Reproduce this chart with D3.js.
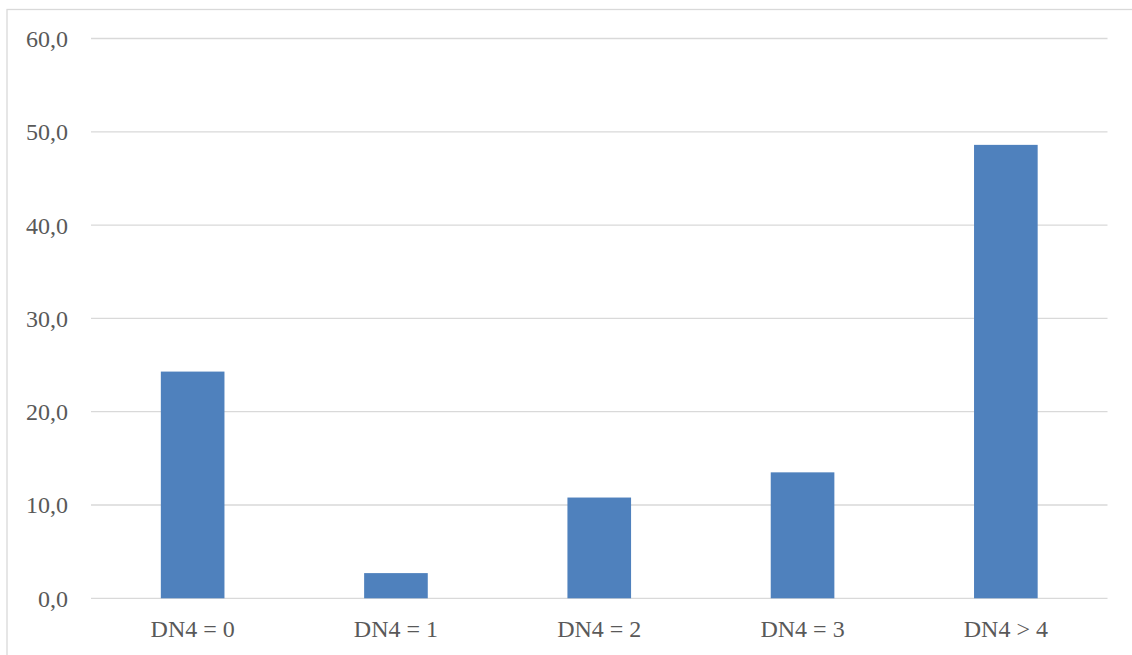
<!DOCTYPE html>
<html>
<head>
<meta charset="utf-8">
<script src="https://cdn.jsdelivr.net/npm/d3@7"></script>
<style>
  body { margin: 0; background: #fff; }
  svg { display: block; }
</style>
</head>
<body>
<div id="chart"></div>
<script>
// chart data
const categories = ["DN4 = 0", "DN4 = 1", "DN4 = 2", "DN4 = 3", "DN4 > 4"];
const values = [24.3, 2.7, 10.8, 13.5, 48.6];
const yTicks = [0, 10, 20, 30, 40, 50, 60];

const width = 1132, height = 655;
const margin = {top: 38.5, right: 24.5, bottom: 56.7, left: 91};

const svg = d3.select("#chart").append("svg")
    .attr("width", width)
    .attr("height", height);

// outer chart border (only left and top show in the frame)
svg.append("rect")
    .attr("x", 7)
    .attr("y", 9.5)
    .attr("width", 1200)
    .attr("height", 800)
    .attr("fill", "none")
    .attr("stroke", "#d9d9d9")
    .attr("stroke-width", 1.3);

const x = d3.scaleBand()
    .domain(categories)
    .range([margin.left, width - margin.right])
    .paddingInner(0.687)
    .paddingOuter(0.687 / 2);

const y = d3.scaleLinear()
    .domain([0, 60])
    .range([height - margin.bottom, margin.top]);

const fmt = d => d.toFixed(1).replace(".", ",");

// gridlines
svg.append("g")
    .selectAll("line")
    .data(yTicks)
    .join("line")
    .attr("x1", margin.left)
    .attr("x2", width - margin.right)
    .attr("y1", d => y(d))
    .attr("y2", d => y(d))
    .attr("stroke", "#d9d9d9")
    .attr("stroke-width", 1.3);

// y tick labels
svg.append("g")
    .selectAll("text")
    .data(yTicks)
    .join("text")
    .attr("x", 68)
    .attr("y", d => y(d))
    .attr("dy", "0.35em")
    .attr("text-anchor", "end")
    .attr("font-family", "'Liberation Serif', serif")
    .attr("font-size", 24)
    .attr("fill", "#595959")
    .text(fmt);

// bars
svg.append("g")
    .selectAll("rect")
    .data(values)
    .join("rect")
    .attr("x", (d, i) => x(categories[i]))
    .attr("y", d => y(d))
    .attr("width", x.bandwidth())
    .attr("height", d => y(0) - y(d))
    .attr("fill", "#4f81bd");

// x labels
svg.append("g")
    .selectAll("text")
    .data(categories)
    .join("text")
    .attr("x", d => x(d) + x.bandwidth() / 2)
    .attr("y", 637)
    .attr("text-anchor", "middle")
    .attr("font-family", "'Liberation Serif', serif")
    .attr("font-size", 24)
    .attr("fill", "#595959")
    .text(d => d);
</script>
</body>
</html>
